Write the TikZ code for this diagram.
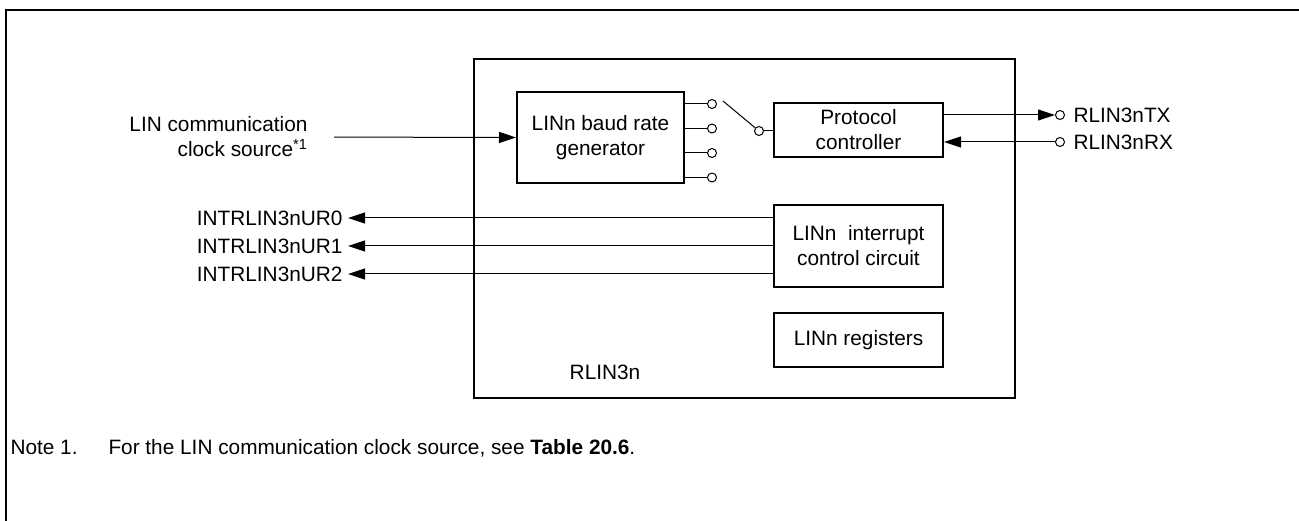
\documentclass[tikz,border=0pt]{standalone}
\usepackage{fontspec}
\setmainfont{Liberation Sans}
\usepackage{tikz}
\usetikzlibrary{arrows.meta, positioning}

\begin{document}
\begin{tikzpicture}[x=1pt, y=-1pt, line width=1pt, font=\fontsize{20.8}{25}\selectfont]
    \tikzstyle{block} = [rectangle, draw, line width=2pt, inner sep=0pt, align=center, minimum width=169pt]
    \tikzstyle{port} = [circle, draw, line width=1pt, minimum size=9pt, inner sep=0pt]
    \tikzstyle{lbl} = [inner sep=2pt]
    \tikzstyle{line} = [draw, -{Triangle[length=17pt, width=11pt]}]

    \useasboundingbox (0,0) rectangle (1299,521);
    % outer frame
    \draw [line width=2pt] (6,521) -- (6,10) -- (1299,10);

    \node [block, minimum width=541pt, minimum height=339pt] (rlin) at (744.5,228.5) {};
    \node [block, minimum width=167pt, minimum height=91pt] (baud) at (600.5,137.5) {LINn baud rate\\generator};
    \node [block, minimum height=54pt] (proto) at (858.5,130) {Protocol\\controller};
    \node [block, minimum height=82pt] (intr) at (858.5,246) {LINn\ \ interrupt\\control circuit};
    \node [block, minimum height=54pt] (regs) at (858.5,340) {LINn registers};
    \node (name) at (605,372) {RLIN3n};

    % selector
    \foreach \i/\y in {1/104, 2/128.5, 3/153, 4/177.5} {
        \node [port] (out\i) at (712,\y) {};
        \draw (baud.east |- out\i) -- (out\i.west);
    }
    \node [port] (sw) at (759,131) {};
    \coordinate (swtip) at (723,101);
    \draw (swtip) -- (sw);
    \draw (sw.east) -- (proto.west |- sw);

    % pins
    \node [port] (tx) at (1060,115) {};
    \node [port] (rx) at (1060,142) {};
    \node [lbl, right=6pt of tx] (txname) {RLIN3nTX};
    \node [lbl, right=6pt of rx] (rxname) {RLIN3nRX};
    \path [line] (proto.east |- tx) -- (tx.west);
    \path [line] (rx.west) -- (proto.east |- rx);

    \node [inner sep=0pt, align=right, anchor=east] (clk) at (308,137) {LIN communication\\clock source\textsuperscript{*1}};
    \path [line, shorten <=26pt] (clk.east) -- (baud.west);

    \foreach \i/\y in {0/218, 1/246, 2/274} {
        \node [lbl, anchor=east, inner xsep=5pt] (ur\i) at (348,\y) {INTRLIN3nUR\i};
        \path [line] (intr.west |- ur\i) -- (ur\i.east);
    }

    \node [anchor=base west, inner sep=0pt] (note) at (10,454) {Note 1.};
    \node [anchor=base west, inner sep=0pt] (notetext) at (108,454) {For the LIN communication clock source, see \textbf{Table 20.6}.};
\end{tikzpicture}
\end{document}
